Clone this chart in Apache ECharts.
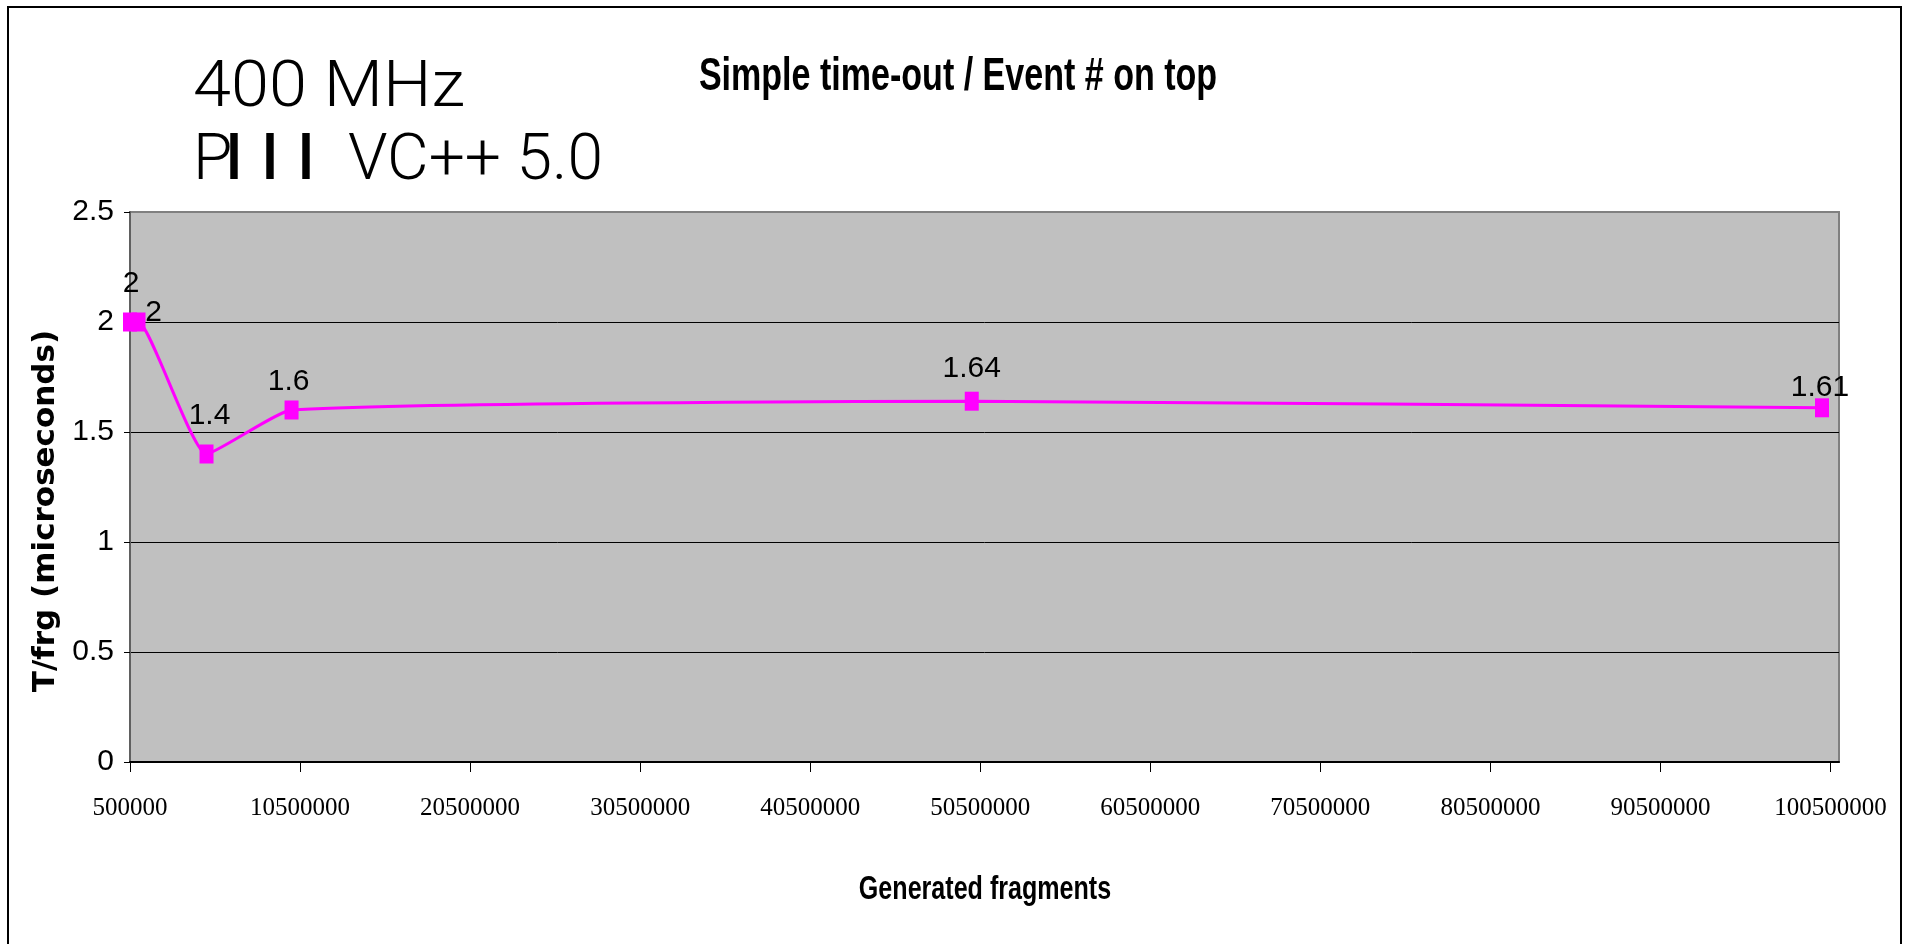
<!DOCTYPE html>
<html>
<head>
<meta charset="utf-8">
<title>Simple time-out / Event # on top</title>
<script src="https://cdn.jsdelivr.net/npm/echarts@6/dist/echarts.min.js"></script>
<style>
  html, body { margin: 0; padding: 0; background: #ffffff; }
  #chart { width: 1908px; height: 944px; }
</style>
</head>
<body>
<div id="chart"></div>
<script>
// Measured points: number of generated fragments vs. time per fragment (µs)
const fragments = [500000, 1000000, 5000000, 10000000, 50000000, 100000000];
const timePerFragment = [2, 2, 1.4, 1.6, 1.64, 1.61];

// Axis tick values
const xTickValues = [500000, 10500000, 20500000, 30500000, 40500000, 50500000,
                     60500000, 70500000, 80500000, 90500000, 100500000];
const yTicks = [0, 0.5, 1, 1.5, 2, 2.5];

// Texts
const chartTitle = 'Simple time-out / Event # on top';
const xAxisTitle = 'Generated fragments';
const yAxisTitle = 'T/frg (microseconds)';
const headerLine1 = '400 MHz';
const headerLine2 = ['P', 'I', 'I', 'I', 'VC++ 5.0'];

// Placement of each point's value label relative to its marker (px)
const labelOffsets = [[1, -38], [15, -9], [3, -38], [-3, -28], [0, -32], [-2, -20]];

const SANS = "'Liberation Sans', Arial, sans-serif";
const SERIF = "'Liberation Serif', 'Times New Roman', serif";
const HEAD = "Roboto, 'Liberation Sans', sans-serif";

const seriesData = fragments.map((x, i) => ({
  value: [x, timePerFragment[i]],
  label: { offset: labelOffsets[i] }
}));

const chart = echarts.init(document.getElementById('chart'), null, { renderer: 'canvas' });

chart.setOption({
  animation: false,
  backgroundColor: '#ffffff',
  grid: {
    left: 130, top: 212, right: 69, bottom: 182,
    show: true,
    backgroundColor: '#C0C0C0',
    borderColor: '#808080',
    borderWidth: 2
  },
  xAxis: {
    type: 'value',
    min: 500000,
    max: 101000000,
    axisLine: { show: true, onZero: false, lineStyle: { color: '#000', width: 2 } },
    axisTick: {
      show: true, inside: false, length: 10,
      customValues: xTickValues,
      lineStyle: { color: '#000', width: 1 }
    },
    axisLabel: {
      show: true,
      customValues: xTickValues,
      margin: 34,
      color: '#000',
      fontFamily: SERIF,
      fontSize: 25,
      lineHeight: 25,
      formatter: v => String(v)
    },
    splitLine: { show: false }
  },
  yAxis: {
    type: 'value',
    min: yTicks[0],
    max: yTicks[yTicks.length - 1],
    interval: yTicks[1] - yTicks[0],
    axisLine: { show: true, lineStyle: { color: '#606060', width: 2 } },
    axisTick: { show: true, inside: false, length: 6, lineStyle: { color: '#000', width: 1 } },
    axisLabel: {
      color: '#000',
      fontFamily: SANS,
      fontSize: 30,
      margin: 16
    },
    splitLine: { show: true, showMinLine: false, showMaxLine: false, lineStyle: { color: '#000', width: 1 } }
  },
  series: [{
    type: 'line',
    data: seriesData,
    smooth: 0.15,
    symbol: 'rect',
    symbolSize: [14, 19],
    clip: false,
    lineStyle: { color: '#FF00FF', width: 3 },
    itemStyle: { color: '#FF00FF' },
    label: {
      show: true,
      position: 'inside',
      color: '#000',
      fontFamily: SANS,
      fontSize: 30,
      formatter: p => String(p.value[1])
    },
    emphasis: { disabled: true }
  }],
  graphic: [
    // outer frame
    {
      type: 'polyline',
      shape: { points: [[8, 960], [8, 7], [1901, 7], [1901, 960]] },
      style: { fill: null, stroke: '#000', lineWidth: 2 },
      silent: true
    },
    // header
    {
      type: 'text', x: 193, y: 90, scaleX: 1.07,
      style: { text: headerLine1, font: "300 64px " + HEAD,
               fill: '#000', align: 'left', verticalAlign: 'middle' }
    },
    {
      type: 'text', x: 193, y: 163,
      style: { text: headerLine2[0], font: "300 64px " + HEAD,
               fill: '#000', align: 'left', verticalAlign: 'middle' }
    },
    {
      type: 'text', x: 234, y: 163, scaleX: 0.8,
      style: { text: headerLine2[1], font: "bold 64px " + HEAD,
               fill: '#000', align: 'center', verticalAlign: 'middle' }
    },
    {
      type: 'text', x: 270, y: 163, scaleX: 0.8,
      style: { text: headerLine2[2], font: "bold 64px " + HEAD,
               fill: '#000', align: 'center', verticalAlign: 'middle' }
    },
    {
      type: 'text', x: 306, y: 163, scaleX: 0.8,
      style: { text: headerLine2[3], font: "bold 64px " + HEAD,
               fill: '#000', align: 'center', verticalAlign: 'middle' }
    },
    {
      type: 'text', x: 348, y: 163,
      style: { text: headerLine2[4], font: "300 64px " + HEAD,
               fill: '#000', align: 'left', verticalAlign: 'middle' }
    },
    // chart title
    {
      type: 'text', x: 958, y: 77, scaleX: 0.74,
      style: { text: chartTitle, font: "bold 46px " + SANS,
               fill: '#000', align: 'center', verticalAlign: 'middle' }
    },
    // x axis title
    {
      type: 'text', x: 985, y: 890, scaleX: 0.76,
      style: { text: xAxisTitle, font: "bold 33px " + SANS,
               fill: '#000', align: 'center', verticalAlign: 'middle' }
    },
    // y axis title
    {
      type: 'text', x: 46, y: 511, rotation: Math.PI / 2,
      style: { text: yAxisTitle, font: "bold 31px 'DejaVu Sans', Verdana, sans-serif",
               fill: '#000', align: 'center', verticalAlign: 'middle' }
    }
  ]
});
</script>
</body>
</html>
